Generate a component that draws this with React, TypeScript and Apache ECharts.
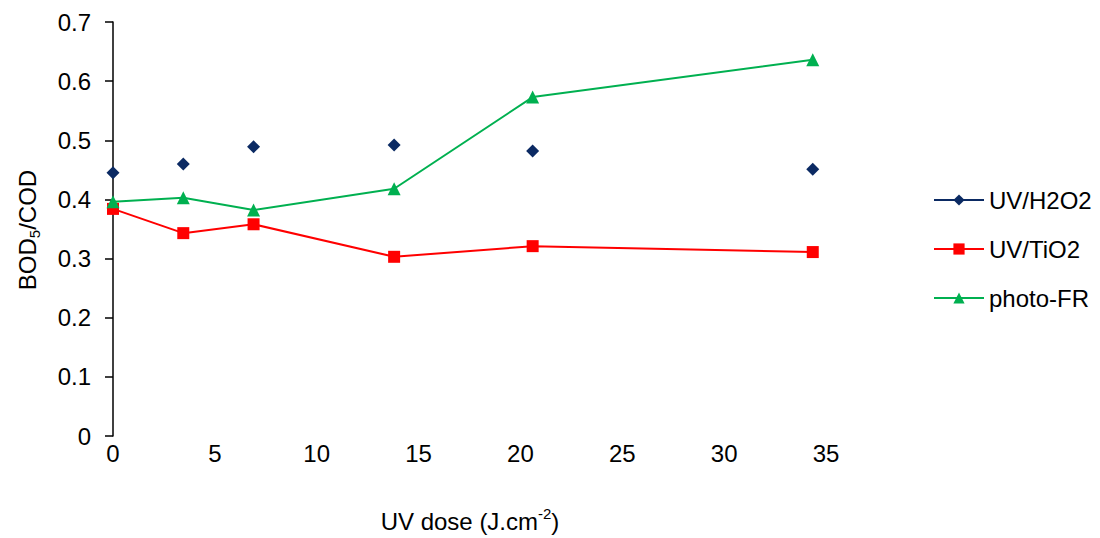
import React, { useEffect, useRef } from "react";
import * as echarts from "echarts";

const doses = [0, 3.45, 6.9, 13.8, 20.6, 34.35];
const uvH2O2 = [0.445, 0.46, 0.489, 0.492, 0.482, 0.451];
const uvTiO2 = [0.384, 0.343, 0.358, 0.303, 0.321, 0.311];
const photoFR = [0.396, 0.403, 0.382, 0.418, 0.573, 0.636];
const seriesNames = ["UV/H2O2", "UV/TiO2", "photo-FR"];
const colors = ["#0b2a63", "#ff0000", "#00b050"];

const FONT = "Liberation Sans, Arial, sans-serif";
const FS = 24;

export default function App() {
  const ref = useRef<HTMLDivElement>(null);
  useEffect(() => {
    if (!ref.current) return;
    const chart = echarts.init(ref.current, null, { renderer: "svg" });
    const pair = (ys: number[]) => doses.map((x, i) => [x, ys[i]]);
    chart.setOption({
      animation: false,
      textStyle: { fontFamily: FONT, color: "#000" },
      grid: { left: 113, right: 274, top: 22, bottom: 102, containLabel: false },
      xAxis: {
        type: "value",
        min: 0,
        max: 35,
        interval: 5,
        axisLine: { show: false },
        axisTick: { show: false },
        splitLine: { show: false },
        axisLabel: { fontSize: FS, color: "#000", margin: 5, fontFamily: FONT },
      },
      yAxis: {
        type: "value",
        min: 0,
        max: 0.7,
        interval: 0.1,
        axisLine: { show: true, lineStyle: { color: "#000", width: 1.5 } },
        axisTick: { show: true, length: 8, lineStyle: { color: "#000", width: 1.5 } },
        splitLine: { show: false },
        axisLabel: { fontSize: FS, color: "#000", margin: 22, fontFamily: FONT },
      },
      legend: {
        orient: "vertical",
        left: 928,
        top: 183,
        itemWidth: 50,
        itemHeight: 14,
        itemGap: 25,
        textStyle: { fontSize: FS, color: "#000", fontFamily: FONT },
        data: [
          { name: seriesNames[0], lineStyle: { opacity: 1, width: 2, color: colors[0] } },
          { name: seriesNames[1] },
          { name: seriesNames[2] },
        ],
      },
      graphic: [
        {
          type: "text",
          x: 27,
          y: 230,
          rotation: Math.PI / 2,
          style: {
            text: "{a|BOD}{s|5}{a|/COD}",
            align: "center",
            verticalAlign: "middle",
            fill: "#000",
            rich: {
              a: { fontSize: FS, lineHeight: 30, fontFamily: FONT, fill: "#000" },
              s: { fontSize: 15, lineHeight: 14, verticalAlign: "bottom", fontFamily: FONT, fill: "#000" },
            },
          },
        },
        {
          type: "text",
          x: 470,
          y: 521,
          style: {
            text: "{a|UV dose (J.cm}{s|-2}{a|)}",
            align: "center",
            verticalAlign: "middle",
            fill: "#000",
            rich: {
              a: { fontSize: FS, lineHeight: 30, fontFamily: FONT, fill: "#000" },
              s: { fontSize: 15, lineHeight: 14, verticalAlign: "top", fontFamily: FONT, fill: "#000" },
            },
          },
        },
      ],
      series: [
        {
          name: seriesNames[0],
          type: "line",
          data: pair(uvH2O2),
          symbol: "diamond",
          symbolSize: 13,
          itemStyle: { color: colors[0] },
          lineStyle: { opacity: 0, width: 2, color: colors[0] },
        },
        {
          name: seriesNames[1],
          type: "line",
          data: pair(uvTiO2),
          symbol: "rect",
          symbolSize: 12,
          itemStyle: { color: colors[1] },
          lineStyle: { width: 2, color: colors[1] },
        },
        {
          name: seriesNames[2],
          type: "line",
          data: pair(photoFR),
          symbol: "triangle",
          symbolSize: 13,
          itemStyle: { color: colors[2] },
          lineStyle: { width: 2, color: colors[2] },
        },
      ],
    });
    return () => chart.dispose();
  }, []);
  return <div ref={ref} style={{ width: 1100, height: 538, position: "absolute", left: 0, top: 0 }} />;
}
